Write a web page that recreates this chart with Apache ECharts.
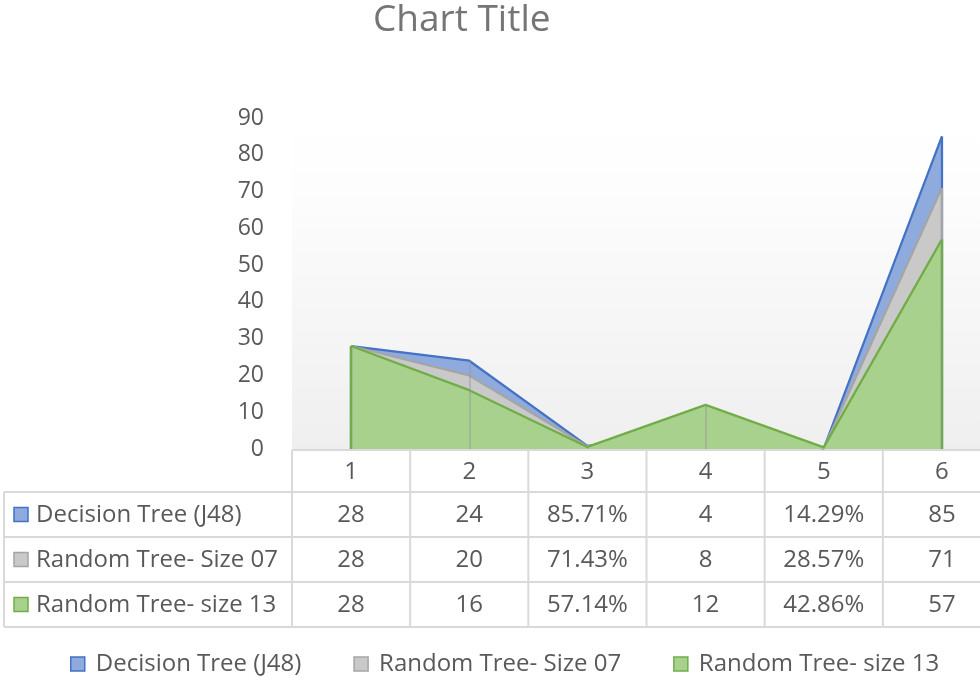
<!DOCTYPE html>
<html>
<head>
<meta charset="utf-8">
<script src="https://cdn.jsdelivr.net/npm/echarts@6/dist/echarts.min.js"></script>
<style>
html,body{margin:0;padding:0;background:#fff;}
#main{width:980px;height:692px;}
</style>
</head>
<body>
<div id="main"></div>
<script>
const categories = ['1', '2', '3', '4', '5', '6'];
const seriesNames = ['Decision Tree (J48)', 'Random Tree- Size 07', 'Random Tree- size 13'];
const decisionTreeValues = [28, 24, 0.8571, 4, 0.1429, 85];
const randomTree07Values = [28, 20, 0.7143, 8, 0.2857, 71];
const randomTree13Values = [28, 16, 0.5714, 12, 0.4286, 57];
const decisionTreeLabels = ['28', '24', '85.71%', '4', '14.29%', '85'];
const randomTree07Labels = ['28', '20', '71.43%', '8', '28.57%', '71'];
const randomTree13Labels = ['28', '16', '57.14%', '12', '42.86%', '57'];
const yMin = 0, yMax = 90, yInterval = 10;

const allValues = [decisionTreeValues, randomTree07Values, randomTree13Values];
const allLabels = [decisionTreeLabels, randomTree07Labels, randomTree13Labels];
const lineColors = ['#4472c4', '#a5a5a5', '#70ad47'];
const areaColors = ['#8faadc', '#c9c9c9', '#a9d18e'];
const FONT = '"Open Sans", "Liberation Sans", sans-serif';
const textColor = '#595959';
const borderColor = '#d9d9d9';

const chart = echarts.init(document.getElementById('main'), null, {renderer: 'canvas'});

const n = categories.length;
const series = allValues.map((vals, si) => {
  const md = [
    [{coord: [categories[0], 0]}, {coord: [categories[0], vals[0]]}],
    [{coord: [categories[n - 1], 0]}, {coord: [categories[n - 1], vals[n - 1]]}]
  ];
  if (si === allValues.length - 1) {
    for (let i = 1; i < n - 1; i++) {
      const mx = Math.max(...allValues.map(v => v[i]));
      md.push([
        {coord: [categories[i], 0], lineStyle: {color: 'rgba(150,150,150,0.55)', width: 1.5}},
        {coord: [categories[i], mx]}
      ]);
    }
  }
  return {
    name: seriesNames[si],
    type: 'line',
    z: 2 + si,
    data: vals,
    symbol: 'none',
    lineStyle: {color: lineColors[si], width: 2.25},
    itemStyle: {color: lineColors[si]},
    areaStyle: {color: areaColors[si], opacity: 1},
    markLine: {
      silent: true,
      z: 10 + si,
      symbol: 'none',
      label: {show: false},
      animation: false,
      lineStyle: {color: lineColors[si], width: 2.25, type: 'solid'},
      data: md
    }
  };
});

chart.setOption({
  animation: false,
  backgroundColor: '#ffffff',
  title: {
    text: 'Chart Title',
    left: 368, top: -3,
    textStyle: {fontFamily: FONT, fontSize: 37, fontWeight: 'normal', color: '#757575'}
  },
  legend: {
    left: 70, top: 652, padding: 0,
    icon: 'rect',
    itemWidth: 14, itemHeight: 14, itemGap: 52,
    textStyle: {fontFamily: FONT, fontSize: 24, color: textColor, padding: [0, 0, 0, 6]},
    data: seriesNames.map((nm, i) => ({
      name: nm,
      itemStyle: {color: areaColors[i], borderColor: lineColors[i], borderWidth: 1.5}
    }))
  },
  grid: {
    left: 292, top: 118, width: 709, height: 331,
    outerBoundsMode: 'none',
    containLabel: false,
    show: true, borderWidth: 0,
    backgroundColor: new echarts.graphic.LinearGradient(0, 0, 0, 1, [
      {offset: 0, color: '#ffffff'},
      {offset: 0.15, color: '#fefefe'},
      {offset: 1, color: '#efefef'}
    ])
  },
  xAxis: {
    type: 'category',
    data: categories,
    boundaryGap: true,
    axisLine: {show: false},
    axisTick: {show: false},
    axisLabel: {show: false},
    splitLine: {show: false}
  },
  yAxis: {
    type: 'value',
    min: yMin, max: yMax, interval: yInterval,
    axisLine: {show: false},
    axisTick: {show: false},
    splitLine: {show: false},
    axisLabel: {fontFamily: FONT, fontSize: 23, color: textColor, margin: 28}
  },
  series: series
});

function buildTable() {
  const c0 = chart.convertToPixel({xAxisIndex: 0}, categories[0]);
  const c1 = chart.convertToPixel({xAxisIndex: 0}, categories[1]);
  const cw = c1 - c0;
  const left = c0 - cw / 2;
  const right = left + cw * n;
  const yTop = chart.convertToPixel({yAxisIndex: 0}, 0) + 1;
  const headerH = 42;
  const rowH = 45;
  const labelLeft = 4;
  const rowsTop = yTop + headerH;
  const bottom = rowsTop + rowH * allValues.length;
  const els = [];
  const ls = {stroke: borderColor, lineWidth: 2};
  els.push({type: 'line', shape: {x1: left, y1: yTop, x2: right, y2: yTop}, style: ls, silent: true});
  for (let r = 0; r <= allValues.length; r++) {
    const y = rowsTop + rowH * r;
    els.push({type: 'line', shape: {x1: labelLeft, y1: y, x2: right, y2: y}, style: ls, silent: true});
  }
  els.push({type: 'line', shape: {x1: labelLeft, y1: rowsTop, x2: labelLeft, y2: bottom}, style: ls, silent: true});
  for (let i = 0; i <= n; i++) {
    const x = left + cw * i;
    els.push({type: 'line', shape: {x1: x, y1: yTop, x2: x, y2: bottom}, style: ls, silent: true});
  }
  for (let i = 0; i < n; i++) {
    const cx = chart.convertToPixel({xAxisIndex: 0}, categories[i]);
    els.push({type: 'text', silent: true, style: {
      text: categories[i], x: cx, y: yTop + headerH / 2 + 1,
      textAlign: 'center', textVerticalAlign: 'middle',
      font: '24px ' + FONT, fill: textColor}});
  }
  for (let r = 0; r < allValues.length; r++) {
    const cy = rowsTop + rowH * r + rowH / 2 + 1;
    els.push({type: 'rect', silent: true,
      shape: {x: 14, y: cy - 8, width: 14, height: 14},
      style: {fill: areaColors[r], stroke: lineColors[r], lineWidth: 1.5}});
    els.push({type: 'text', silent: true, style: {
      text: seriesNames[r], x: 36, y: cy,
      textAlign: 'left', textVerticalAlign: 'middle',
      font: '24px ' + FONT, fill: textColor}});
    for (let i = 0; i < n; i++) {
      const cx = chart.convertToPixel({xAxisIndex: 0}, categories[i]);
      els.push({type: 'text', silent: true, style: {
        text: allLabels[r][i], x: cx, y: cy,
        textAlign: 'center', textVerticalAlign: 'middle',
        font: '24px ' + FONT, fill: textColor}});
    }
  }
  chart.setOption({graphic: {elements: els}});
}
buildTable();
</script>
</body>
</html>
